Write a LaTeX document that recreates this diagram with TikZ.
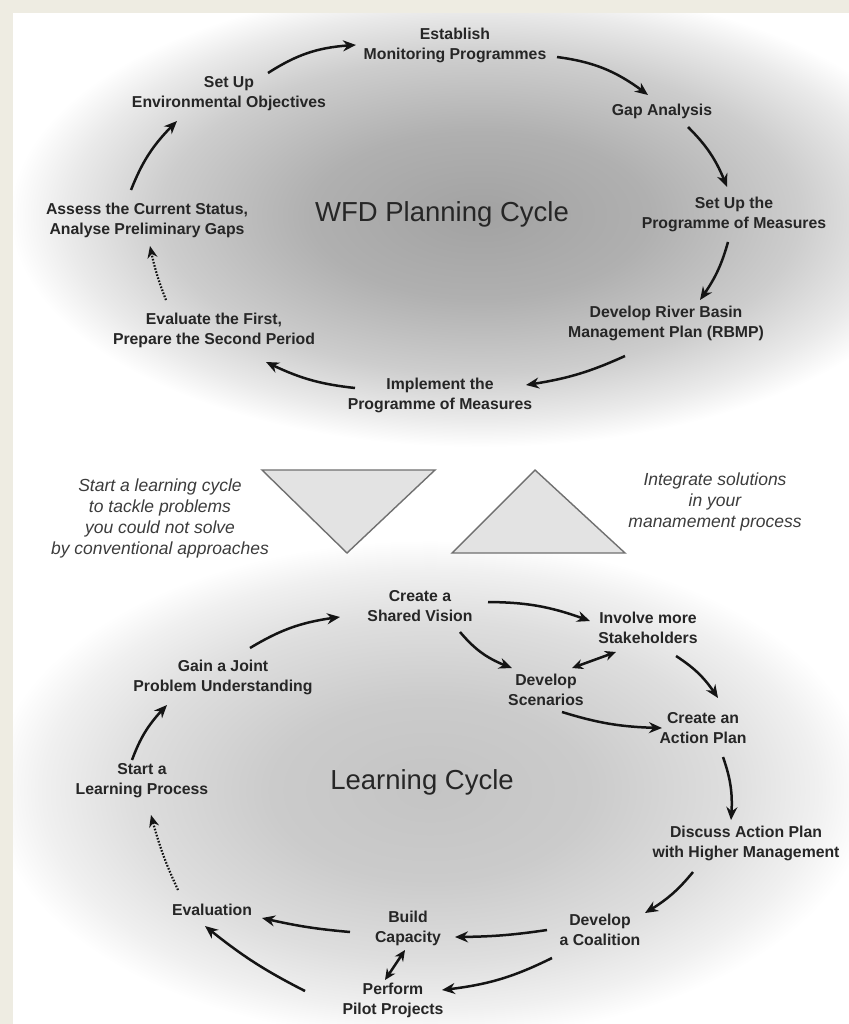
\documentclass[tikz,border=0pt]{standalone}
\usepackage{fontspec}
\setmainfont{Liberation Sans}
\usetikzlibrary{arrows.meta,bending}
\definecolor{beige}{HTML}{EEECE2}
\definecolor{txt}{HTML}{262626}
\definecolor{notec}{HTML}{3C3C3C}
\definecolor{arrc}{HTML}{141414}
\definecolor{trif}{HTML}{E3E3E3}
\definecolor{trid}{HTML}{707070}
\definecolor{tcA}{HTML}{A2A2A2}
\definecolor{tcB}{HTML}{B0B0B0}
\definecolor{tcC}{HTML}{CDCDCD}
\definecolor{tcD}{HTML}{EAEAEA}
\definecolor{bcA}{HTML}{C4C4C4}
\definecolor{bcB}{HTML}{CBCBCB}
\definecolor{bcC}{HTML}{DEDEDE}
\definecolor{bcD}{HTML}{F0F0F0}
\pgfdeclareradialshading{topsh}{\pgfpoint{0bp}{0bp}}{color(0bp)=(tcA); color(9bp)=(tcB); color(17bp)=(tcC); color(22bp)=(tcD); color(25bp)=(white); color(50bp)=(white)}
\pgfdeclareradialshading{botsh}{\pgfpoint{0bp}{0bp}}{color(0bp)=(bcA); color(9bp)=(bcB); color(17bp)=(bcC); color(22bp)=(bcD); color(25bp)=(white); color(50bp)=(white)}
\begin{document}
\begin{tikzpicture}[x=1pt,y=-1pt,
  lab/.style={font=\bfseries\fontsize{15.8}{20}\selectfont, align=center, text=txt, inner sep=0pt},
  ttl/.style={font=\fontsize{27.5}{30}\selectfont, text=txt, inner sep=0pt},
  note/.style={font=\itshape\fontsize{17.5}{21}\selectfont, align=center, text=notec, inner sep=0pt},
  arr/.style={line width=2.5pt, draw=arrc, -{Stealth[length=13pt,width=11pt]}},
  dotarr/.style={line width=2.2pt, draw=arrc, dash pattern=on 1.6pt off 1.6pt, -{Stealth[length=12pt,width=10pt]}},
  dbl/.style={line width=2.5pt, draw=arrc, {Stealth[length=11pt,width=10pt]}-{Stealth[length=11pt,width=10pt]}},
  tri/.style={fill=trif, draw=trid, line width=1.4pt, line join=miter}]
\useasboundingbox (0,0) rectangle (848,1024);
% background
\fill[beige] (0,0) rectangle (13,1024);
\fill[beige] (0,0) rectangle (860,14);
\fill[white] (13,14) rectangle (860,1036);
\begin{scope}
  \clip (13,14) rectangle (860,1036);
  \fill[shading=topsh] (10,-17) rectangle (950,447);
  \fill[shading=botsh] (-10,540) rectangle (870,1040);
\end{scope}

% ---------- WFD planning cycle ----------
\node[lab] (est) at (455,45) {Establish\\Monitoring Programmes};
\node[lab] (su) at (229,94) {Set Up\\Environmental Objectives};
\node[lab] (gap) at (662,111) {Gap Analysis};
\node[lab] (assess) at (147,220) {Assess the Current Status,\\Analyse Preliminary Gaps};
\node[ttl] (wfd) at (442,214) {WFD Planning Cycle};
\node[lab] (setup) at (734,214) {Set Up the\\Programme of Measures};
\node[lab] (evalf) at (214,330) {Evaluate the First,\\Prepare the Second Period};
\node[lab] (rbmp) at (666,323) {Develop River Basin\\Management Plan (RBMP)};
\node[lab] (impl) at (440,395) {Implement the\\Programme of Measures};

\draw[arr] ([shift={(39,-21)}]su.center) to[bend left=15] ([shift={(-99,0)}]est.center);
\draw[arr] ([shift={(102,12)}]est.center) to[bend left=15] ([shift={(-14,-16)}]gap.center);
\draw[arr] ([shift={(26,16)}]gap.center) to[bend left=12] ([shift={(-7,-27)}]setup.center);
\draw[arr] ([shift={(-6,28)}]setup.center) to[bend left=10] ([shift={(34,-23)}]rbmp.center);
\draw[arr] ([shift={(-41,33)}]rbmp.center) to[bend left=8] ([shift={(86,-10)}]impl.center);
\draw[arr] ([shift={(-85,-7)}]impl.center) to[bend left=10] ([shift={(52,32)}]evalf.center);
\draw[dotarr] ([shift={(-48,-30)}]evalf.center) to[bend left=5] ([shift={(3,26)}]assess.center);
\draw[arr] ([shift={(-16,-30)}]assess.center) to[bend left=12] ([shift={(-52,27)}]su.center);

% ---------- middle ----------
\draw[tri] (262,470) -- (435,470) -- (347,553) -- cycle;
\draw[tri] (452,553) -- (625,553) -- (535,470) -- cycle;
\node[note] (nl) at (160,518) {Start a learning cycle\\to tackle problems\\you could not solve\\by conventional approaches};
\node[note] (nr) at (715,502) {Integrate solutions\\in your\\manamement process};

% ---------- Learning cycle ----------
\node[lab] (sv) at (420,606) {Create a\\Shared Vision};
\node[lab] (inv) at (648,628) {Involve more\\Stakeholders};
\node[lab] (gain) at (223,677) {Gain a Joint\\Problem Understanding};
\node[lab] (scen) at (546,690) {Develop\\Scenarios};
\node[lab] (act) at (703,728) {Create an\\Action Plan};
\node[lab] (start) at (142,781) {Start a\\Learning Process};
\node[ttl] (lc) at (422,782) {Learning Cycle};
\node[lab] (disc) at (746,843) {Discuss Action Plan\\with Higher Management};
\node[lab] (evaln) at (212,910) {Evaluation};
\node[lab] (build) at (408,928) {Build\\Capacity};
\node[lab] (coal) at (600,930) {Develop\\a Coalition};
\node[lab] (pilot) at (393,1000) {Perform\\Pilot Projects};

\draw[arr] ([shift={(-10,-21)}]start.center) to[bend left=12] ([shift={(-56,28)}]gain.center);
\draw[arr] ([shift={(27,-29)}]gain.center) to[bend left=12] ([shift={(-80,11)}]sv.center);
\draw[arr] ([shift={(68,-4)}]sv.center) to[bend left=10] ([shift={(-58,-7)}]inv.center);
\draw[arr] ([shift={(40,26)}]sv.center) to[bend right=15] ([shift={(-34,-22)}]scen.center);
\draw[dbl] ([shift={(26,-22)}]scen.center) -- ([shift={(-32,24)}]inv.center);
\draw[arr] ([shift={(28,28)}]inv.center) to[bend left=12] ([shift={(15,-30)}]act.center);
\draw[arr] ([shift={(16,22)}]scen.center) to[bend right=8] ([shift={(-41,0)}]act.center);
\draw[arr] ([shift={(20,29)}]act.center) to[bend left=12] ([shift={(-15,-23)}]disc.center);
\draw[arr] ([shift={(-53,29)}]disc.center) to[bend left=10] ([shift={(45,-17)}]coal.center);
\draw[arr] ([shift={(-53,0)}]coal.center) to[bend left=4] ([shift={(47,9)}]build.center);
\draw[arr] ([shift={(-48,28)}]coal.center) to[bend left=10] ([shift={(49,-10)}]pilot.center);
\draw[arr] ([shift={(-58,4)}]build.center) to[bend left=4] ([shift={(50,8)}]evaln.center);
\draw[dbl] ([shift={(-3,22)}]build.center) -- ([shift={(-8,-20)}]pilot.center);
\draw[arr] ([shift={(-88,-9)}]pilot.center) to[bend left=6] ([shift={(-7,16)}]evaln.center);
\draw[dotarr] ([shift={(-34,-20)}]evaln.center) to[bend left=5] ([shift={(9,34)}]start.center);
\end{tikzpicture}
\end{document}
